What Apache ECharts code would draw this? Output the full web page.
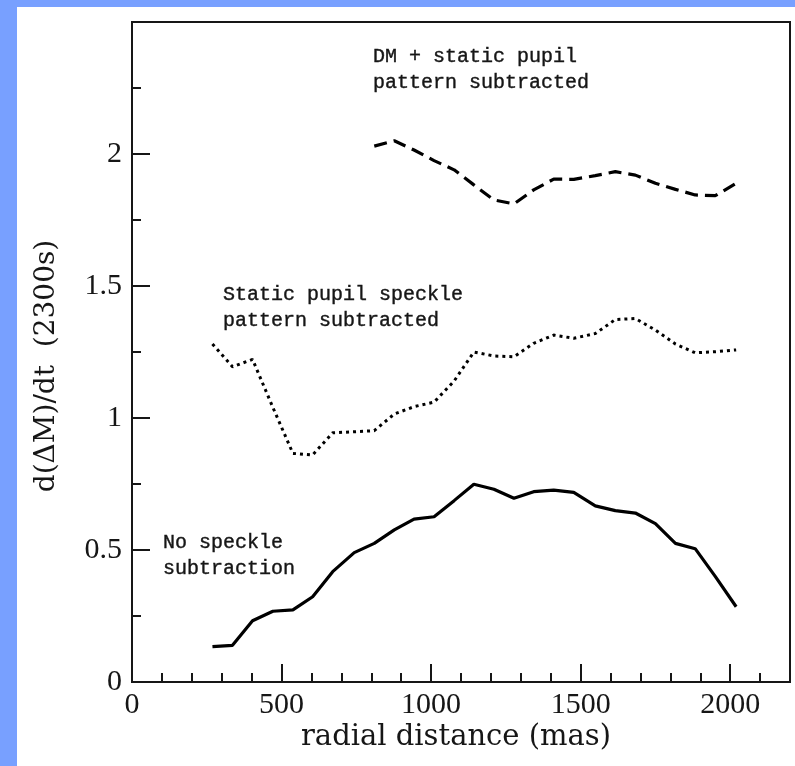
<!DOCTYPE html>
<html>
<head>
<meta charset="utf-8">
<script src="https://cdn.jsdelivr.net/npm/echarts@6/dist/echarts.min.js"></script>
<style>
  html, body { margin: 0; padding: 0; background: #ffffff; }
  #chart { width: 795px; height: 766px; }
</style>
</head>
<body>
<div id="chart"></div>
<script>
// Radial sample positions (mas)
const radius = [269, 336, 403, 471, 538, 604, 671, 743, 810, 877, 943, 1010, 1077, 1143,
                1210, 1277, 1343, 1410, 1477, 1549, 1616, 1683, 1750, 1817, 1883, 1950, 2020];

// d(ΔM)/dt over 2300 s for each processing stage
const noSubtraction = [0.134, 0.139, 0.232, 0.268, 0.273, 0.323, 0.418, 0.490, 0.525, 0.576,
                       0.617, 0.626, 0.687, 0.749, 0.730, 0.696, 0.721, 0.727, 0.718, 0.667,
                       0.649, 0.640, 0.600, 0.525, 0.505, 0.400, 0.285];
const staticPupil = [1.280, 1.194, 1.222, 1.040, 0.866, 0.860, 0.944, 0.948, 0.952, 1.015,
                     1.043, 1.060, 1.140, 1.250, 1.235, 1.232, 1.283, 1.314, 1.302, 1.320,
                     1.373, 1.377, 1.333, 1.280, 1.247, 1.251, 1.258];
const dmStaticPupil = [null, null, null, null, null, null, null, null, 2.030, 2.050,
                       2.015, 1.975, 1.940, 1.883, 1.826, 1.811, 1.864, 1.905, 1.904, 1.918,
                       1.933, 1.920, 1.889, 1.866, 1.845, 1.842, 1.889];

const xTickLabels = ['0', '500', '1000', '1500', '2000'];
const yTickLabels = ['0', '0.5', '1', '1.5', '2'];

const xTitle = 'radial distance (mas)';
const yTitle = 'd(ΔM)/dt  (2300s)';
const labelNoSub = 'No speckle\nsubtraction';
const labelStatic = 'Static pupil speckle\npattern subtracted';
const labelDm = 'DM + static pupil\npattern subtracted';

function pairs(values) {
  const out = [];
  radius.forEach((r, i) => { if (values[i] !== null) out.push([r, values[i]]); });
  return out;
}

const ink = '#161616';
const serif = '"Liberation Serif", "DejaVu Serif", serif';
const wideSerif = '"DejaVu Serif", "Liberation Serif", serif';
const mono = '"Liberation Mono", "DejaVu Sans Mono", monospace';

const tickLabelStyle = { fontFamily: serif, fontSize: 30, color: ink };

const chart = echarts.init(document.getElementById('chart'), null, { renderer: 'canvas' });

function noteText(x, y, text) {
  return {
    type: 'text', x: x, y: y,
    style: {
      text: text, font: '20px ' + mono, fill: ink, stroke: ink, lineWidth: 0.4,
      lineHeight: 26, align: 'left', verticalAlign: 'top'
    }
  };
}

chart.setOption({
  animation: false,
  backgroundColor: '#ffffff',
  grid: {
    left: 132, top: 22, right: 5, bottom: 84,
    show: true, borderColor: ink, borderWidth: 2, backgroundColor: 'transparent'
  },
  xAxis: [
    {
      type: 'value', min: 0, max: 2200, interval: 500, position: 'bottom',
      axisLine: { show: true, lineStyle: { color: ink, width: 2 } },
      axisTick: { show: true, inside: true, length: 18, lineStyle: { color: ink, width: 2 } },
      axisLabel: {
        ...tickLabelStyle, margin: 8,
        formatter: v => (xTickLabels.includes(String(v)) ? String(v) : '')
      },
      splitLine: { show: false }
    },
    {
      type: 'value', min: 0, max: 2200, interval: 100, position: 'bottom',
      axisLine: { show: false },
      axisTick: { show: true, inside: true, length: 9, lineStyle: { color: ink, width: 2 } },
      axisLabel: { show: false },
      splitLine: { show: false }
    }
  ],
  yAxis: [
    {
      type: 'value', min: 0, max: 2.5, interval: 0.5, position: 'left',
      axisLine: { show: true, lineStyle: { color: ink, width: 2 } },
      axisTick: { show: true, inside: true, length: 18, lineStyle: { color: ink, width: 2 } },
      axisLabel: {
        ...tickLabelStyle, margin: 10,
        formatter: v => (yTickLabels.includes(String(v)) ? String(v) : '')
      },
      splitLine: { show: false }
    },
    {
      type: 'value', min: 0, max: 2.5, interval: 0.25, position: 'left',
      axisLine: { show: false },
      axisTick: { show: true, inside: true, length: 9, lineStyle: { color: ink, width: 2 } },
      axisLabel: { show: false },
      splitLine: { show: false }
    }
  ],
  series: [
    {
      name: 'No speckle subtraction', type: 'line', xAxisIndex: 0, yAxisIndex: 0,
      data: pairs(noSubtraction), symbol: 'none', smooth: false,
      lineStyle: { color: '#000', width: 3.2, type: 'solid' }
    },
    {
      name: 'Static pupil speckle pattern subtracted', type: 'line', xAxisIndex: 0, yAxisIndex: 0,
      data: pairs(staticPupil), symbol: 'none', smooth: false,
      lineStyle: { color: '#000', width: 3, type: [3, 4], cap: 'butt' }
    },
    {
      name: 'DM + static pupil pattern subtracted', type: 'line', xAxisIndex: 0, yAxisIndex: 0,
      data: pairs(dmStaticPupil), symbol: 'none', smooth: false,
      lineStyle: { color: '#000', width: 3.2, type: [13, 7], cap: 'butt' }
    }
  ],
  graphic: [
    // blue page edge
    { type: 'rect', z: -10, shape: { x: 0, y: 0, width: 795, height: 7 }, style: { fill: '#78a0ff' } },
    { type: 'rect', z: -10, shape: { x: 0, y: 0, width: 17, height: 766 }, style: { fill: '#78a0ff' } },
    // axis titles
    {
      type: 'text', x: 456, y: 737,
      style: { text: xTitle, font: '29px ' + wideSerif, fill: ink, align: 'center', verticalAlign: 'middle' }
    },
    {
      type: 'text', x: 47, y: 366, rotation: Math.PI / 2,
      style: { text: yTitle, font: '28px ' + wideSerif, fill: ink, align: 'center', verticalAlign: 'middle' }
    },
    // curve annotations
    noteText(373, 44, labelDm),
    noteText(223, 282, labelStatic),
    noteText(163, 530, labelNoSub)
  ]
});
</script>
</body>
</html>
